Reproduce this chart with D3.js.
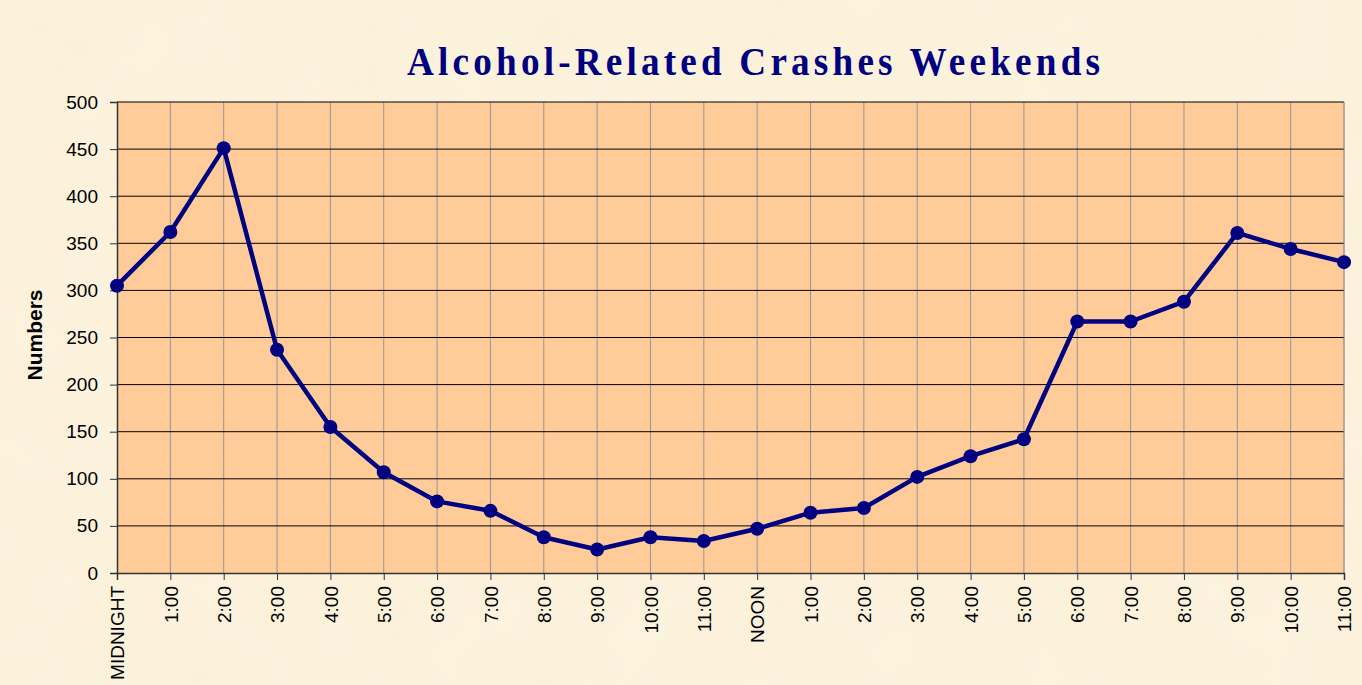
<!DOCTYPE html>
<html>
<head>
<meta charset="utf-8">
<script src="https://cdn.jsdelivr.net/npm/d3@7"></script>
<style>
  html, body { margin: 0; padding: 0; background: #fbf1da; }
  svg { display: block; }
</style>
</head>
<body>
<div id="chart"></div>
<script>
// hours of the day, weekend crash counts
const hours = ['MIDNIGHT', '1:00', '2:00', '3:00', '4:00', '5:00', '6:00', '7:00', '8:00', '9:00', '10:00', '11:00',
               'NOON', '1:00', '2:00', '3:00', '4:00', '5:00', '6:00', '7:00', '8:00', '9:00', '10:00', '11:00'];
const crashes = [305, 362, 451, 237, 155, 107, 76, 66, 38, 25, 38, 34,
                 47, 64, 69, 102, 124, 142, 267, 267, 288, 361, 344, 330];
const yTicks = [0, 50, 100, 150, 200, 250, 300, 350, 400, 450, 500];

const W = 1362, H = 685;
const margin = { top: 102, right: 18, bottom: 112, left: 117 };
const width = W - margin.left - margin.right;
const height = H - margin.top - margin.bottom;

const svg = d3.select('#chart').append('svg')
    .attr('width', W)
    .attr('height', H);

// parchment background with a soft mottled look
const defs = svg.append('defs');
const filt = defs.append('filter').attr('id', 'paper');
filt.append('feTurbulence')
    .attr('type', 'fractalNoise')
    .attr('baseFrequency', 0.012)
    .attr('numOctaves', 3)
    .attr('seed', 4);
filt.append('feColorMatrix')
    .attr('values', '0 0 0 0 0.99  0 0 0 0 0.93  0 0 0 0 0.80  0 0 0 0.35 0');
filt.append('feComposite').attr('in2', 'SourceGraphic').attr('operator', 'in');

svg.append('rect').attr('width', W).attr('height', H).attr('fill', '#fbf1da');
svg.append('rect').attr('width', W).attr('height', H).attr('fill', '#fff').attr('filter', 'url(#paper)');

const g = svg.append('g').attr('transform', `translate(${margin.left},${margin.top})`);

const x = d3.scalePoint()
    .domain(d3.range(hours.length))
    .range([0, width]);

const y = d3.scaleLinear()
    .domain([0, 500])
    .range([height, 0]);

// plot area
g.append('rect')
    .attr('width', width)
    .attr('height', height)
    .attr('fill', '#ffcc99');

// vertical grid
g.append('g')
    .selectAll('line')
    .data(d3.range(1, hours.length))
    .join('line')
    .attr('x1', d => x(d)).attr('x2', d => x(d))
    .attr('y1', 0).attr('y2', height)
    .attr('stroke', '#959595')
    .attr('stroke-width', 1);

// horizontal grid
g.append('g')
    .selectAll('line')
    .data(yTicks.filter(d => d > 0))
    .join('line')
    .attr('x1', 0).attr('x2', width)
    .attr('y1', d => y(d)).attr('y2', d => y(d))
    .attr('stroke', '#000')
    .attr('stroke-width', 1);

// right edge of plot
g.append('line')
    .attr('x1', width).attr('x2', width)
    .attr('y1', 0).attr('y2', height)
    .attr('stroke', '#9a9a9a');

// axes
const yAxis = g.append('g')
    .call(d3.axisLeft(y).tickValues(yTicks).tickSize(7).tickPadding(12));
const xAxis = g.append('g')
    .attr('transform', `translate(0,${height})`)
    .call(d3.axisBottom(x).tickSize(7).tickFormat(i => hours[i]));

[yAxis, xAxis].forEach(a => {
    a.select('.domain').attr('stroke', '#333').attr('stroke-width', 1.5);
    a.selectAll('.tick line').attr('stroke', '#333');
    a.selectAll('text')
        .attr('fill', '#000')
        .style('font-family', 'Liberation Sans, Arial, sans-serif')
        .style('font-size', '19px');
});

xAxis.selectAll('text')
    .attr('transform', 'rotate(-90)')
    .attr('text-anchor', 'end')
    .attr('x', -13)
    .attr('y', 0)
    .attr('dy', '0.35em');

// line + markers
const line = d3.line()
    .x((d, i) => x(i))
    .y(d => y(d));

g.append('path')
    .datum(crashes)
    .attr('fill', 'none')
    .attr('stroke', '#000080')
    .attr('stroke-width', 4.5)
    .attr('stroke-linejoin', 'round')
    .attr('d', line);

g.append('g')
    .selectAll('circle')
    .data(crashes)
    .join('circle')
    .attr('cx', (d, i) => x(i))
    .attr('cy', d => y(d))
    .attr('r', 7)
    .attr('fill', '#000080');

// y label
svg.append('text')
    .attr('transform', 'translate(42,335) rotate(-90)')
    .attr('text-anchor', 'middle')
    .style('font-family', 'Liberation Sans, Arial, sans-serif')
    .style('font-size', '21px')
    .style('font-weight', 'bold')
    .text('Numbers');

// title: slightly narrow glyphs, a bit of extra spacing
const sx = 0.93;
svg.append('text')
    .attr('transform', `scale(${sx},1)`)
    .attr('x', 407 / sx)
    .attr('y', 75)
    .attr('textLength', 693 / sx)
    .attr('lengthAdjust', 'spacing')
    .attr('fill', '#000080')
    .style('font-family', 'Liberation Serif, Times New Roman, serif')
    .style('font-size', '40px')
    .style('font-weight', 'bold')
    .text('Alcohol-Related Crashes Weekends');
</script>
</body>
</html>
